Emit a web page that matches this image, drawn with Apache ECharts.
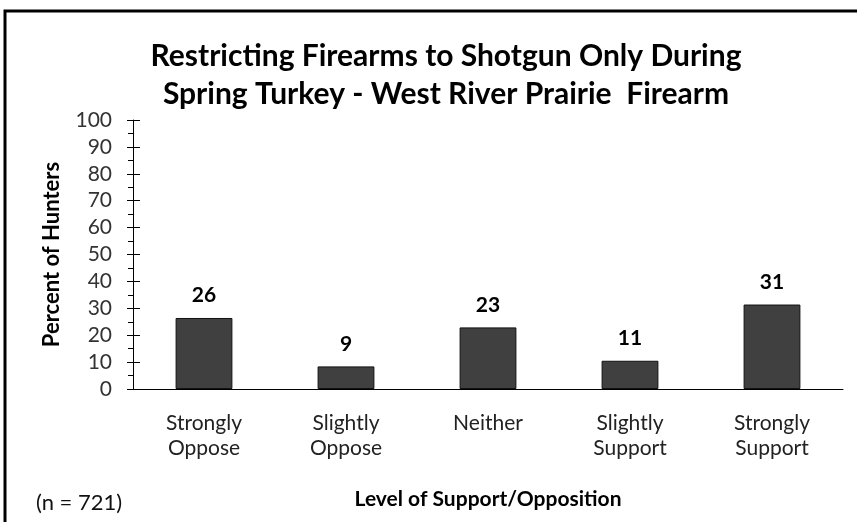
<!DOCTYPE html>
<html lang="en">
<head>
    <meta charset="UTF-8">
    <title>Restricting Firearms to Shotgun Only During Spring Turkey</title>
    <script src="https://cdn.jsdelivr.net/npm/echarts@6.0.0/dist/echarts.min.js"></script>
    <style>
        * {
            margin: 0;
            padding: 0;
            box-sizing: border-box;
        }

        body {
            background-color: #ffffff;
        }

        #chart {
            width: 857px;
            height: 522px;
        }
    </style>
</head>
<body>
    <div id="chart"></div>

    <script>
        // chart data
        const categories = ['Strongly\nOppose', 'Slightly\nOppose', 'Neither', 'Slightly\nSupport', 'Strongly\nSupport'];
        const percents = [26.4, 8.4, 22.9, 10.5, 31.4];
        const shownLabels = ['26', '9', '23', '11', '31'];
        const yTicks = [0, 10, 20, 30, 40, 50, 60, 70, 80, 90, 100];

        const font = 'Lato, "Open Sans", sans-serif';

        const chart = echarts.init(document.getElementById('chart'));
        chart.setOption({
            animation: false,
            title: {
                text: 'Restricting Firearms to Shotgun Only During\nSpring Turkey - West River Prairie  Firearm',
                left: 441,
                top: 32,
                textAlign: 'center',
                textStyle: {
                    fontFamily: font,
                    fontSize: 30,
                    fontWeight: 'bold',
                    color: '#000',
                    lineHeight: 38
                }
            },
            graphic: [
                {
                    type: 'polyline',
                    shape: { points: [[5, 522], [5, 11], [857, 11]] },
                    style: { stroke: '#000', lineWidth: 3, fill: null }
                },
                {
                    type: 'text',
                    left: 36,
                    top: 492,
                    style: {
                        text: '(n = 721)',
                        font: '22px ' + font,
                        fill: '#111'
                    }
                }
            ],
            grid: {
                left: 133,
                right: 14,
                top: 120,
                bottom: 133
            },
            xAxis: {
                type: 'category',
                data: categories,
                name: 'Level of Support/Opposition',
                nameLocation: 'middle',
                nameGap: 100,
                nameTextStyle: {
                    fontFamily: font,
                    fontSize: 21,
                    fontWeight: 'bold',
                    color: '#000'
                },
                axisLine: { lineStyle: { color: '#000', width: 1 } },
                axisTick: { length: 7, lineStyle: { color: '#000' } },
                axisLabel: {
                    margin: 22,
                    fontFamily: font,
                    fontSize: 21,
                    lineHeight: 25,
                    color: '#222'
                }
            },
            yAxis: [
                {
                    type: 'value',
                    min: 0,
                    max: 100,
                    interval: 10,
                    name: 'Percent of Hunters',
                    nameLocation: 'middle',
                    nameGap: 70,
                    nameTextStyle: {
                        fontFamily: font,
                        fontSize: 22,
                        fontWeight: 'bold',
                        color: '#000'
                    },
                    splitLine: { show: false },
                    axisLine: { show: true, lineStyle: { color: '#000' } },
                    axisTick: { show: true, length: 6, lineStyle: { color: '#000' } },
                    minorTick: { show: true, splitNumber: 2, length: 5, lineStyle: { color: '#000' } },
                    axisLabel: {
                        margin: 21,
                        fontFamily: font,
                        fontSize: 21,
                        color: '#333',
                        formatter: function (v) {
                            return yTicks.indexOf(v) >= 0 ? String(v) : '';
                        }
                    }
                },
                {
                    // inner half of the crossing major ticks
                    type: 'value',
                    position: 'left',
                    min: 0,
                    max: 100,
                    interval: 10,
                    splitLine: { show: false },
                    axisLine: { show: false },
                    axisTick: { show: true, inside: true, length: 7, lineStyle: { color: '#000' } },
                    axisLabel: { show: false }
                }
            ],
            series: [{
                type: 'bar',
                data: percents,
                barWidth: '40%',
                itemStyle: {
                    color: '#404040',
                    borderColor: '#111',
                    borderWidth: 1
                },
                label: {
                    show: true,
                    position: 'top',
                    distance: 12,
                    fontFamily: font,
                    fontSize: 21,
                    fontWeight: 'bold',
                    color: '#000',
                    formatter: function (p) {
                        return shownLabels[p.dataIndex];
                    }
                }
            }]
        });
    </script>
</body>
</html>
